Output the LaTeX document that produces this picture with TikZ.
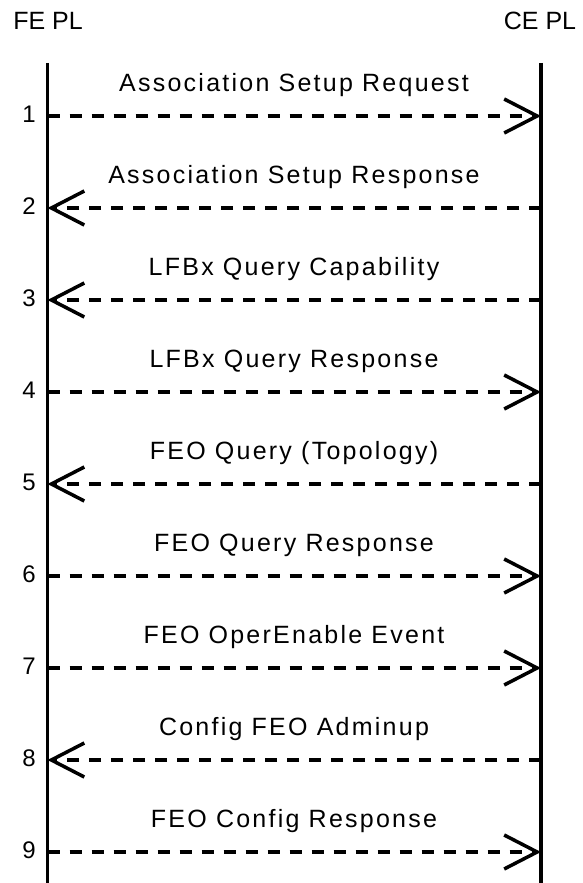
\documentclass[tikz,border=0pt]{standalone}
\usepackage{fontspec}
\setmainfont{Liberation Sans}
\usetikzlibrary{arrows.meta}
\begin{document}
\begin{tikzpicture}[x=1pt,y=-1pt,
  every node/.style={inner sep=0pt},
  head/.style={font=\fontsize{25}{30}\selectfont},
  lifeline/.style={line width=3.5pt},
  msg/.style={line width=3.5pt, dash pattern=on 12pt off 10pt,
    -{Straight Barb[length=33pt,width=34pt,line width=3.5pt]}},
  msglabel/.style={anchor=base,
    font=\fontsize{25}{30}\selectfont\addfontfeatures{LetterSpace=9}},
  msgnum/.style={anchor=east, font=\fontsize{24}{28}\selectfont}]
  \useasboundingbox (0,0) rectangle (582,883);
  % participants
  \node[head] (fe) at (48,21) {FE PL};
  \node[head] (ce) at (540,21) {CE PL};
  \coordinate (feTop) at (47.5,63);
  \coordinate (feBot) at (47.5,883);
  \coordinate (ceTop) at (541,63);
  \coordinate (ceBot) at (541,883);
  \draw[lifeline] (feTop) -- (feBot);
  \draw[lifeline] (ceTop) -- (ceBot);
  % messages: index / direction (r = FE to CE, l = CE to FE) / text
  \foreach \i/\dir/\txt in {
    1/r/Association Setup Request,
    2/l/Association Setup Response,
    3/l/LFBx Query Capability,
    4/r/LFBx Query Response,
    5/l/FEO Query (Topology),
    6/r/FEO Query Response,
    7/r/FEO OperEnable Event,
    8/l/Config FEO Adminup,
    9/r/FEO Config Response} {
    \pgfmathsetmacro{\yy}{116+92*(\i-1)}
    \coordinate (fe\i) at (47.5,\yy);
    \coordinate (ce\i) at (541,\yy);
    \node[msglabel] (lbl\i) at (294,\yy-25) {\txt};
    \node[msgnum] (num\i) at (36,\yy-1.5) {\i};
    \if r\dir
      \draw[msg] (fe\i) -- (ce\i);
    \else
      \draw[msg] (ce\i) -- (fe\i);
    \fi
  }
\end{tikzpicture}
\end{document}
